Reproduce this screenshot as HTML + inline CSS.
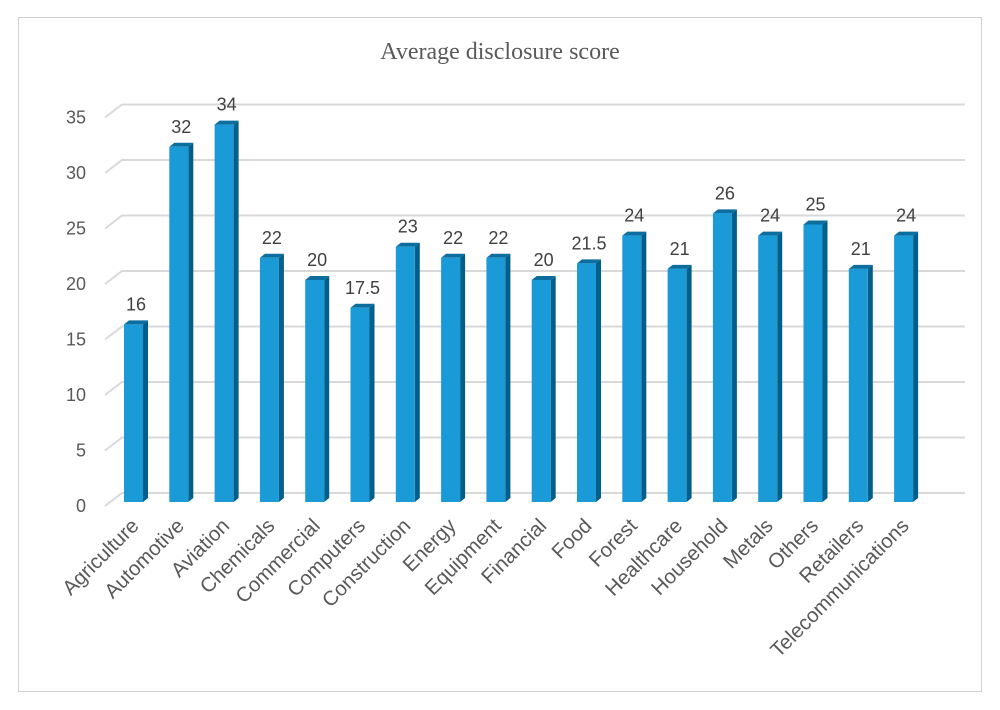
<!DOCTYPE html>
<html><head><meta charset="utf-8"><style>
html,body{margin:0;padding:0;background:#fff}
svg{display:block}
text{font-family:"Liberation Sans",sans-serif}
</style></head><body>
<svg width="1000" height="710" viewBox="0 0 1000 710" xmlns="http://www.w3.org/2000/svg">
<rect x="18.5" y="17.5" width="963" height="674" fill="#fff" stroke="#d0d0d0"/>
<text x="500" y="59" text-anchor="middle" style="font-family:'Liberation Serif',serif" font-size="24" fill="#595959">Average disclosure score</text>
<g id="grid" stroke="#d9d9d9" stroke-width="2" fill="none"></g>
<g id="yl" font-size="18" fill="#595959" text-anchor="end"></g>
<g id="bars"></g>
<g id="vl" font-size="18" fill="#404040" text-anchor="middle"></g>
<g id="cl" font-size="20.5" fill="#595959" text-anchor="end"></g>
</svg>
<script>
const ns="http://www.w3.org/2000/svg";
function el(p,t,a,txt){const e=document.createElementNS(ns,t);for(const k in a)e.setAttribute(k,a[k]);if(txt!=null)e.textContent=txt;document.getElementById(p).appendChild(e);}
const S=11.1;
for(let v=0;v<=35;v+=5){const y=493-v*S;
el('grid','path',{d:`M105 ${y+13} L122 ${y} L965 ${y}`});
el('yl','text',{x:86,y:505-v*S+7},String(v));}
const d=[["Agriculture",16],["Automotive",32],["Aviation",34],["Chemicals",22],["Commercial",20],["Computers",17.5],["Construction",23],["Energy",22],["Equipment",22],["Financial",20],["Food",21.5],["Forest",24],["Healthcare",21],["Household",26],["Metals",24],["Others",25],["Retailers",21],["Telecommunications",24]];
d.forEach((r,i)=>{const x=124+i*45.3,w=19,b=502,t=b-r[1]*S;
el('bars','polygon',{points:`${x+w},${t} ${x+w+5},${t-4} ${x+w+5},${b-4} ${x+w},${b}`,fill:'#005f8a'});
el('bars','polygon',{points:`${x},${t} ${x+5},${t-4} ${x+w+5},${t-4} ${x+w},${t}`,fill:'#0c6e9e'});
el('bars','rect',{x:x,y:t,width:w,height:b-t,fill:'#1a9ad6'});
el('vl','text',{x:x+12,y:t-14},String(r[1]));
const cx=x+16,cy=527;
el('cl','text',{x:cx,y:cy,transform:`rotate(-45 ${cx} ${cy})`},r[0]);});
</script>
</body></html>
